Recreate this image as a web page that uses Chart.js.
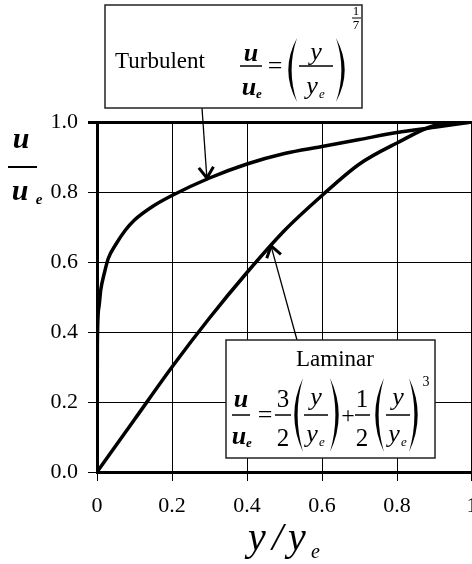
<!DOCTYPE html>
<html>
<head>
<meta charset="utf-8">
<script src="https://cdn.jsdelivr.net/npm/chart.js@4/dist/chart.umd.min.js"></script>
<style>
    body { margin: 0; background: #fff; }
    #wrap { width: 472px; height: 564px; overflow: hidden; position: relative; }
    canvas { position: absolute; left: 0; top: 0; }
</style>
</head>
<body>
<div id="wrap"><canvas id="profile" width="520" height="564"></canvas></div>
<script>
// values
const turbX = [0, 0.001, 0.005, 0.01, 0.02, 0.03, 0.05, 0.075, 0.1, 0.15, 0.2, 0.3, 0.4, 0.5, 0.6, 0.7, 0.8, 0.9, 1.0];
const turbU = [0, 0.37, 0.47, 0.52, 0.57, 0.61, 0.65, 0.69, 0.72, 0.76, 0.79, 0.84, 0.88, 0.91, 0.93, 0.95, 0.97, 0.985, 1.0];
const lamX = [0, 0.1, 0.2, 0.3, 0.4, 0.5, 0.6, 0.7, 0.8, 0.9, 1.0];
const lamU = [0, 0.15, 0.30, 0.44, 0.57, 0.69, 0.79, 0.88, 0.94, 0.99, 1.0];
const xTickLabels = ['0', '0.2', '0.4', '0.6', '0.8', '1'];
const yTickLabels = ['0.0', '0.2', '0.4', '0.6', '0.8', '1.0'];
// where the arrows point (data units)
const turbArrowAt = { x: 0.293, y: 0.84 };
const lamArrowAt = { x: 0.464, y: 0.646 };

const SERIF = '"Liberation Serif", "Times New Roman", serif';

function txt(ctx, s, x, y, font, align) {
    ctx.font = font;
    ctx.textAlign = align || 'center';
    ctx.textBaseline = 'alphabetic';
    ctx.fillText(s, x, y);
}

function hbar(ctx, x1, x2, y, w) {
    ctx.beginPath();
    ctx.lineWidth = w || 1.5;
    ctx.moveTo(x1, y);
    ctx.lineTo(x2, y);
    ctx.stroke();
}

// big bracket as a filled crescent
function paren(ctx, left, x1, x2, yTop, yBot) {
    const mid = (yTop + yBot) / 2;
    ctx.beginPath();
    if (left) {
        ctx.moveTo(x2, yTop);
        ctx.quadraticCurveTo(x1 - (x2 - x1) * 0.45, mid, x2, yBot);
        ctx.quadraticCurveTo(x1 + (x2 - x1) * 0.1, mid, x2, yTop);
    } else {
        ctx.moveTo(x1, yTop);
        ctx.quadraticCurveTo(x2 + (x2 - x1) * 0.45, mid, x1, yBot);
        ctx.quadraticCurveTo(x2 - (x2 - x1) * 0.1, mid, x1, yTop);
    }
    ctx.fill();
}

function arrow(ctx, x0, y0, x1, y1) {
    ctx.beginPath();
    ctx.lineWidth = 1.3;
    ctx.moveTo(x0, y0);
    ctx.lineTo(x1, y1);
    ctx.stroke();
    const a = Math.atan2(y1 - y0, x1 - x0);
    const len = 13, spread = 0.6;
    ctx.beginPath();
    ctx.lineWidth = 3;
    ctx.moveTo(x1 - len * Math.cos(a - spread), y1 - len * Math.sin(a - spread));
    ctx.lineTo(x1, y1);
    ctx.lineTo(x1 - len * Math.cos(a + spread), y1 - len * Math.sin(a + spread));
    ctx.stroke();
}

function box(ctx, x1, y1, x2, y2) {
    ctx.fillStyle = '#fff';
    ctx.fillRect(x1, y1, x2 - x1, y2 - y1);
    ctx.strokeStyle = '#222';
    ctx.lineWidth = 1.5;
    ctx.strokeRect(x1, y1, x2 - x1, y2 - y1);
    ctx.fillStyle = '#000';
    ctx.strokeStyle = '#000';
}

const annotations = {
    id: 'annotations',
    afterDraw(chart) {
        const ctx = chart.ctx;
        const xs = chart.scales.x, ys = chart.scales.y;
        const uFont = (s) => 'italic bold ' + s + 'px ' + SERIF;
        const iFont = (s) => 'italic ' + s + 'px ' + SERIF;
        const rFont = (s) => s + 'px ' + SERIF;
        ctx.save();
        ctx.fillStyle = '#000';
        ctx.strokeStyle = '#000';

        // axis titles
        txt(ctx, 'u', 21, 148, uFont(30));
        hbar(ctx, 8, 37, 167, 2);
        txt(ctx, 'u', 20, 200, uFont(30));
        txt(ctx, 'e', 39, 204, uFont(15));

        txt(ctx, 'y', 248, 550, iFont(40), 'left');
        txt(ctx, '/', 272, 550, iFont(40), 'left');
        txt(ctx, 'y', 288, 550, iFont(40), 'left');
        txt(ctx, 'e', 311, 558, iFont(20), 'left');

        // arrows
        arrow(ctx, 202, 108, xs.getPixelForValue(turbArrowAt.x), ys.getPixelForValue(turbArrowAt.y));
        arrow(ctx, 297, 340, xs.getPixelForValue(lamArrowAt.x), ys.getPixelForValue(lamArrowAt.y));

        // turbulent box
        box(ctx, 105, 5, 362, 108);
        txt(ctx, 'Turbulent', 115, 68, rFont(23), 'left');
        txt(ctx, 'u', 251, 61, uFont(26));
        hbar(ctx, 240, 262, 66);
        txt(ctx, 'u', 249, 95, uFont(26));
        txt(ctx, 'e', 259, 98, uFont(13));
        txt(ctx, '=', 275, 74, rFont(26));
        paren(ctx, true, 285, 297, 38, 102);
        txt(ctx, 'y', 316, 60, iFont(26));
        hbar(ctx, 299, 333, 66);
        txt(ctx, 'y', 312, 94, iFont(26));
        txt(ctx, 'e', 322, 98, iFont(13));
        paren(ctx, false, 336, 348, 38, 102);
        txt(ctx, '1', 356, 15, rFont(13));
        hbar(ctx, 352, 361, 18, 1);
        txt(ctx, '7', 356, 29, rFont(13));

        // laminar box
        box(ctx, 226, 340, 435, 458);
        txt(ctx, 'Laminar', 335, 366, rFont(23));
        txt(ctx, 'u', 241, 407, uFont(26));
        hbar(ctx, 232, 250, 415);
        txt(ctx, 'u', 239, 444, uFont(26));
        txt(ctx, 'e', 249, 447, uFont(13));
        txt(ctx, '=', 265, 423, rFont(26));
        txt(ctx, '3', 283, 407, rFont(25));
        hbar(ctx, 275, 291, 415);
        txt(ctx, '2', 283, 446, rFont(25));
        paren(ctx, true, 291, 303, 378, 452);
        txt(ctx, 'y', 316, 405, iFont(26));
        hbar(ctx, 304, 328, 415);
        txt(ctx, 'y', 312, 442, iFont(26));
        txt(ctx, 'e', 322, 446, iFont(13));
        paren(ctx, false, 330, 342, 378, 452);
        txt(ctx, '+', 348, 423, rFont(24));
        txt(ctx, '1', 362, 407, rFont(25));
        hbar(ctx, 355, 370, 415);
        txt(ctx, '2', 362, 446, rFont(25));
        paren(ctx, true, 372, 384, 378, 452);
        txt(ctx, 'y', 398, 405, iFont(26));
        hbar(ctx, 386, 410, 415);
        txt(ctx, 'y', 394, 442, iFont(26));
        txt(ctx, 'e', 404, 446, iFont(13));
        paren(ctx, false, 409, 421, 378, 452);
        txt(ctx, '3', 426, 386, rFont(14));

        ctx.restore();
    }
};

const toPoints = (xv, yv) => xv.map((x, i) => ({ x: x, y: yv[i] }));

new Chart(document.getElementById('profile'), {
    type: 'scatter',
    data: {
        datasets: [
            {
                label: 'Turbulent',
                data: toPoints(turbX, turbU),
                showLine: true,
                borderColor: '#000',
                borderWidth: 3.5,
                pointRadius: 0,
                cubicInterpolationMode: 'monotone'
            },
            {
                label: 'Laminar',
                data: toPoints(lamX, lamU),
                showLine: true,
                borderColor: '#000',
                borderWidth: 3.5,
                pointRadius: 0,
                cubicInterpolationMode: 'monotone'
            }
        ]
    },
    options: {
        responsive: false,
        animation: false,
        layout: { padding: { top: 122, right: 48, left: 0, bottom: 0 } },
        plugins: {
            legend: { display: false },
            tooltip: { enabled: false }
        },
        scales: {
            x: {
                type: 'linear',
                min: 0,
                max: 1,
                afterFit: (s) => { s.height = 92; },
                afterBuildTicks: (s) => { s.ticks = xTickLabels.map((t, i) => ({ value: i * 0.2 })); },
                ticks: {
                    color: '#000',
                    font: { family: SERIF, size: 22 },
                    padding: 12,
                    maxRotation: 0,
                    callback: (v, i) => xTickLabels[i]
                },
                grid: {
                    color: '#000',
                    lineWidth: (c) => (c.tick && c.tick.value === 1 ? 3 : 1),
                    tickLength: 9
                },
                border: { display: true, color: '#000', width: 3 }
            },
            y: {
                min: 0,
                max: 1,
                afterFit: (s) => { s.width = 97; },
                afterBuildTicks: (s) => { s.ticks = yTickLabels.map((t, i) => ({ value: i * 0.2 })); },
                ticks: {
                    color: '#000',
                    font: { family: SERIF, size: 22 },
                    padding: 10,
                    callback: (v, i) => yTickLabels[i]
                },
                grid: {
                    color: '#000',
                    lineWidth: (c) => (c.tick && Math.abs(c.tick.value - 1) < 1e-9 ? 3 : 1),
                    tickLength: 9
                },
                border: { display: true, color: '#000', width: 3 }
            }
        }
    },
    plugins: [annotations]
});
</script>
</body>
</html>
